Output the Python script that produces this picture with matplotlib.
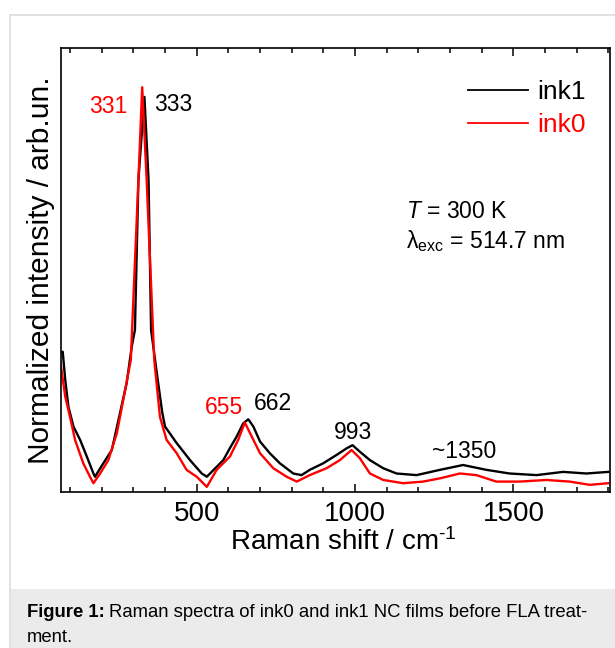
import numpy as np
import matplotlib
matplotlib.use("Agg")
import matplotlib.pyplot as plt
from matplotlib.patches import Rectangle
from matplotlib.ticker import MultipleLocator

plt.rcParams["font.family"] = ["Liberation Sans", "DejaVu Sans"]
plt.rcParams["mathtext.fontset"] = "custom"
plt.rcParams["mathtext.rm"] = "Liberation Sans"
plt.rcParams["mathtext.it"] = "Liberation Sans:italic"

# ============================================================
# DATA (normalized so ink0 peak = 1)
# ============================================================
shift_ink1 = [70, 77, 85, 95, 111, 132, 153, 174, 179, 205, 232, 258, 279, 295, 305,
              316, 335, 348, 356, 374, 391, 400, 437, 479, 516, 532, 584, 605, 626,
              647, 663, 679, 700, 731, 763, 805, 831, 857, 899, 942, 973, 992, 1015,
              1047, 1089, 1131, 1194, 1268, 1341, 1415, 1488, 1573, 1657, 1730, 1800]
int_ink1 = [0.345, 0.346, 0.276, 0.210, 0.161, 0.128, 0.087, 0.045, 0.037, 0.070,
            0.103, 0.195, 0.269, 0.359, 0.400, 0.771, 0.976, 0.771, 0.400, 0.294,
            0.197, 0.161, 0.120, 0.078, 0.045, 0.037, 0.078, 0.108, 0.136, 0.169,
            0.179, 0.161, 0.124, 0.095, 0.070, 0.045, 0.041, 0.054, 0.070, 0.091,
            0.107, 0.115, 0.099, 0.078, 0.058, 0.045, 0.041, 0.054, 0.066, 0.054,
            0.045, 0.041, 0.049, 0.045, 0.049]

shift_ink0 = [70, 85, 100, 116, 142, 163, 174, 195, 221, 248, 274, 292, 316, 328,
              342, 366, 384, 405, 437, 468, 500, 532, 563, 605, 631, 652, 674, 700,
              742, 784, 816, 857, 910, 952, 989, 1015, 1047, 1089, 1152, 1215, 1268,
              1331, 1383, 1446, 1520, 1604, 1678, 1741, 1800]
int_ink0 = [0.318, 0.235, 0.185, 0.128, 0.070, 0.037, 0.021, 0.045, 0.078, 0.145,
            0.251, 0.326, 0.771, 1.000, 0.771, 0.326, 0.185, 0.128, 0.095, 0.054,
            0.037, 0.012, 0.054, 0.087, 0.128, 0.171, 0.136, 0.095, 0.058, 0.037,
            0.025, 0.041, 0.058, 0.078, 0.103, 0.083, 0.045, 0.029, 0.021, 0.025,
            0.033, 0.045, 0.041, 0.025, 0.025, 0.029, 0.025, 0.017, 0.021]

# peak annotations: label, position, colour
peak_labels = ["331", "333", "655", "662", "993", "~1350"]
peak_x = [220, 427, 585, 740, 992, 1343]
peak_y = [0.953, 0.958, 0.207, 0.217, 0.147, 0.100]
peak_col = ["red", "black", "red", "black", "black", "black"]

# ============================================================
# FIGURE
# ============================================================
W, H = 615, 648
fig = plt.figure(figsize=(W / 100, H / 100), dpi=100)
fig.patch.set_facecolor("white")

# outer frame and caption band (behind the axes)
fig.patches.append(Rectangle((10 / W, -0.01), 1, (H - 15) / H + 0.01, transform=fig.transFigure,
                             facecolor="white", edgecolor="#dcdcdc", lw=1.2, zorder=-3))
fig.patches.append(Rectangle((10.6 / W, 0), 1, (H - 589) / H, transform=fig.transFigure,
                             facecolor="#ebebeb", edgecolor="none", zorder=-2))

ax = fig.add_axes([60.5 / W, (H - 491.7) / H, (610 - 60.5) / W, (491.7 - 48) / H])
ax.set_zorder(2)
ax.patch.set_alpha(0)
ax.plot(shift_ink1, int_ink1, color="black", lw=1.7, label="ink1")
ax.plot(shift_ink0, int_ink0, color="red", lw=1.7, label="ink0")

ax.set_xlim(70, 1805)
ax.set_ylim(0, 1.097)
ax.xaxis.set_major_locator(MultipleLocator(500))
ax.xaxis.set_minor_locator(MultipleLocator(100))
ax.set_yticks([])
ax.tick_params(axis="x", which="both", direction="in", top=True, labelsize=20,
               width=1.1, pad=7)
ax.tick_params(axis="x", which="major", length=6)
ax.tick_params(axis="x", which="minor", length=3.5)
for s in ax.spines.values():
    s.set_linewidth(1.2)

ax.set_xlabel(r"Raman shift / cm$^{\text{-1}}$", fontsize=20)
ax.xaxis.set_label_coords(0.515, -0.083)
ax.set_ylabel("Normalized intensity / arb.un.", fontsize=21.5, labelpad=4)

for lab, x, y, c in zip(peak_labels, peak_x, peak_y, peak_col):
    ax.text(x, y, lab, color=c, fontsize=16.5, ha="center", va="center")

leg = ax.legend(loc="upper right", frameon=False, fontsize=19, handlelength=2.3,
                handletextpad=0.35, labelspacing=0.36, borderaxespad=0.3,
                bbox_to_anchor=(0.99, 0.97))
for t, c in zip(leg.get_texts(), ["black", "red"]):
    t.set_color(c)
for l in leg.get_lines():
    l.set_linewidth(1.3)

ax.text(0.629, 0.617, "$T$ = 300 K", transform=ax.transAxes, fontsize=16.5)
ax.text(0.629, 0.548, "λ$_{\\rm exc}$ = 514.7 nm", transform=ax.transAxes,
        fontsize=16.5)

# caption
cx, cy1, cy2 = 27 / W, 1 - 617 / H, 1 - 642 / H
t1 = fig.text(cx, cy1, "Figure 1:", fontsize=13.3, fontweight="bold", zorder=3)
fig.canvas.draw()
bb = t1.get_window_extent()
fig.text((bb.x1 + 4) / W, cy1, "Raman spectra of ink0 and ink1 NC films before FLA treat-",
         fontsize=13.3, zorder=3)
fig.text(cx, cy2, "ment.", fontsize=13.3, zorder=3)

fig.savefig("out.png", dpi=100)
